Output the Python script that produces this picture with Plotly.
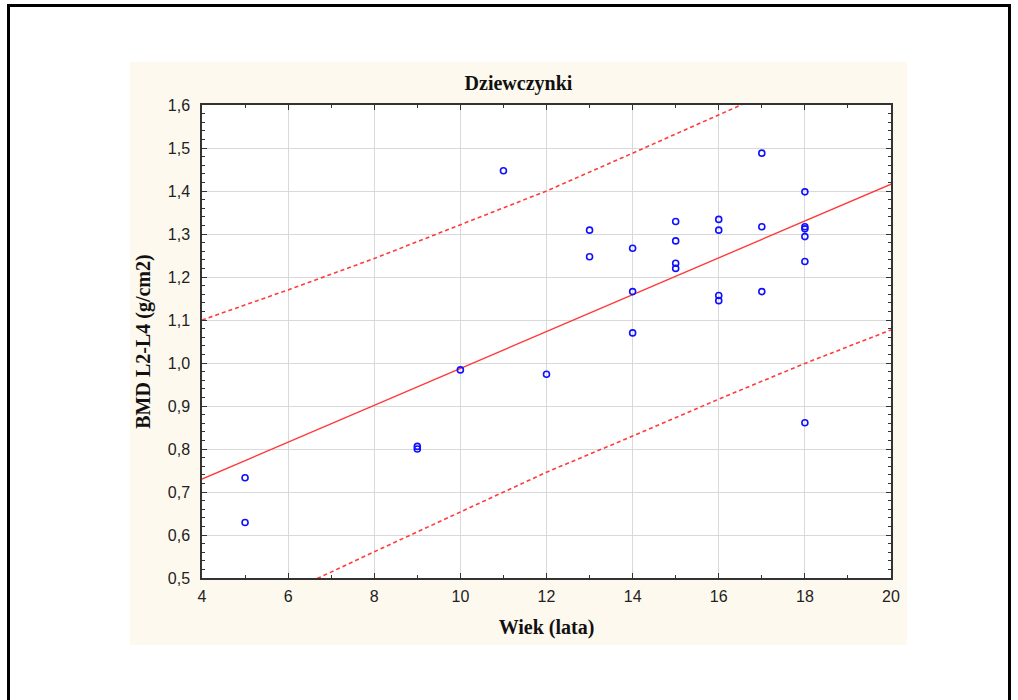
import plotly.graph_objects as go

# ---- data ----
age = [5, 5, 9, 9, 10, 11, 12, 13, 13, 14, 14, 14,
       15, 15, 15, 15, 16, 16, 16, 16, 17, 17, 17,
       18, 18, 18, 18, 18, 18]
bmd = [0.733, 0.629, 0.806, 0.800, 0.984, 1.447, 0.974, 1.309, 1.247,
       1.267, 1.166, 1.070,
       1.329, 1.284, 1.232, 1.220,
       1.334, 1.309, 1.157, 1.145,
       1.488, 1.317, 1.166,
       1.398, 1.317, 1.312, 1.294, 1.236, 0.861]

fit_x = [4, 20]
fit_y = [0.730, 1.416]

band_x = [4, 6, 8, 10, 12, 14, 16, 18, 20]
band_upper = [1.100, 1.170, 1.243, 1.322, 1.400, 1.488, 1.577, 1.665, 1.755]
band_lower = [0.380, 0.467, 0.561, 0.654, 0.746, 0.830, 0.916, 0.999, 1.077]

x_ticks = [4, 6, 8, 10, 12, 14, 16, 18, 20]
y_ticks = [0.5, 0.6, 0.7, 0.8, 0.9, 1.0, 1.1, 1.2, 1.3, 1.4, 1.5, 1.6]

title_text = "Dziewczynki"
x_title = "Wiek (lata)"
y_title = "BMD L2-L4 (g/cm2)"

RED = "#FF3B3B"
BLUE = "#1010FF"

fig = go.Figure()
fig.add_trace(go.Scatter(x=band_x, y=band_upper, mode="lines",
                         line=dict(color=RED, width=1.6, dash="4px,3px"),
                         showlegend=False, hoverinfo="skip"))
fig.add_trace(go.Scatter(x=band_x, y=band_lower, mode="lines",
                         line=dict(color=RED, width=1.6, dash="4px,3px"),
                         showlegend=False, hoverinfo="skip"))
fig.add_trace(go.Scatter(x=fit_x, y=fit_y, mode="lines",
                         line=dict(color=RED, width=1.4),
                         showlegend=False))
fig.add_trace(go.Scatter(x=age, y=bmd, mode="markers",
                         marker=dict(symbol="circle-open", size=6, color=BLUE,
                                     line=dict(width=1.6, color=BLUE)),
                         showlegend=False))

# plot area: x 202..891, y 105..578
L, R, T, B = 202, 1018 - 891, 105, 700 - 578
pw, ph = 891 - 202, 578 - 105

def px_x(p):
    return (p - L) / pw

def px_y(p):
    return (578 - p) / ph

shapes = [
    # beige panel
    dict(type="rect", xref="paper", yref="paper",
         x0=px_x(130), x1=px_x(907), y0=px_y(645), y1=px_y(62),
         fillcolor="#FEF9EE", line=dict(width=0), layer="below"),
    # white plot area
    dict(type="rect", xref="paper", yref="paper",
         x0=0, x1=1, y0=0, y1=1,
         fillcolor="white", line=dict(width=0), layer="below"),
    # outer black frame
    dict(type="rect", xref="paper", yref="paper",
         x0=px_x(8.5), x1=px_x(1009.5), y0=px_y(720), y1=px_y(5.5),
         fillcolor="rgba(0,0,0,0)", line=dict(width=3, color="black"), layer="above"),
]

axis_common = dict(
    showgrid=True, gridcolor="#D9D9D9", gridwidth=1,
    showline=True, linecolor="#333333", linewidth=1.5, mirror="ticks",
    ticks="inside", ticklen=5, tickwidth=1, tickcolor="#333333",
    zeroline=False,
    tickfont=dict(family="Liberation Sans, Arial, sans-serif", size=16, color="#222222"),
)

fig.update_layout(
    width=1018, height=700,
    margin=dict(l=L, r=R, t=T, b=B, pad=0),
    paper_bgcolor="white", plot_bgcolor="white",
    separators=", ",
    shapes=shapes,
    title=dict(text=title_text, x=518.5 / 1018, xref="container", xanchor="center",
               y=1 - 83 / 700, yref="container", yanchor="middle",
               font=dict(family="Liberation Serif, Times New Roman, serif", size=20,
                         color="#111111", weight="bold")),
    xaxis=dict(range=[4, 20], tickvals=x_ticks, ticklabelstandoff=3,
               minor=dict(ticks="inside", ticklen=3, dtick=1, tickcolor="#333333", showgrid=False),
               title=dict(text=x_title, standoff=16,
                          font=dict(family="Liberation Serif, Times New Roman, serif",
                                    size=20, color="#111111", weight="bold")),
               **axis_common),
    yaxis=dict(range=[0.5, 1.6], tickvals=y_ticks, tickformat=".1f", ticklabelstandoff=7,
               minor=dict(ticks="inside", ticklen=3, dtick=0.02, tickcolor="#333333", showgrid=False),
               title=dict(text=y_title, standoff=12,
                          font=dict(family="Liberation Serif, Times New Roman, serif",
                                    size=20, color="#111111", weight="bold")),
               **axis_common),
)

fig.write_html("out.html")
